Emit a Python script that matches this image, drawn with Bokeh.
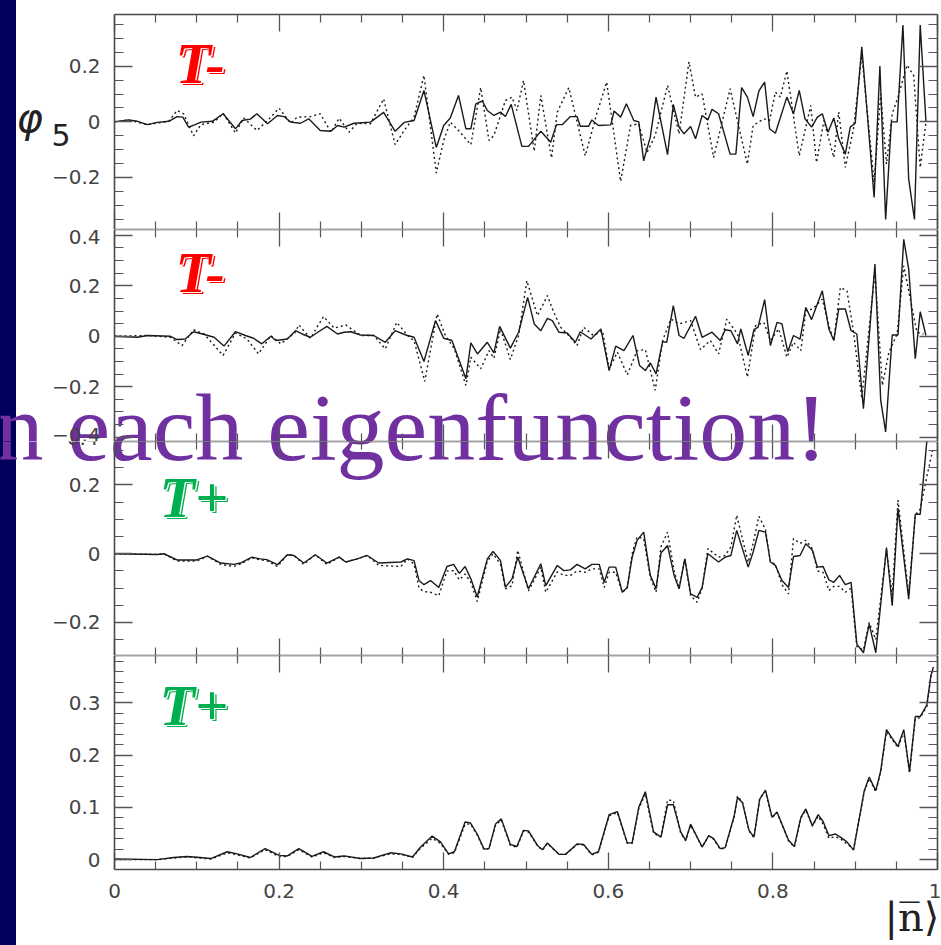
from bokeh.plotting import figure
from bokeh.layouts import column
from bokeh.models import FixedTicker, LinearAxis, Label, Range1d, CustomJSTickFormatter
from bokeh.embed import file_html
from bokeh.resources import INLINE

# ---------------- data ----------------
# Panel 1 (T-)
p1_solid_x = [0, 0.017, 0.028, 0.040, 0.052, 0.066, 0.076, 0.083, 0.090, 0.098, 0.105, 0.119, 0.132, 0.147, 0.155, 0.165, 0.173, 0.186, 0.198, 0.206, 0.214, 0.226, 0.236, 0.250, 0.263, 0.271, 0.279, 0.291, 0.311, 0.327, 0.341, 0.352, 0.364, 0.376, 0.391, 0.400, 0.408, 0.418, 0.427,
              0.433, 0.439, 0.447, 0.453, 0.461, 0.469, 0.475, 0.482, 0.495, 0.503, 0.518, 0.530, 0.537, 0.544, 0.554, 0.562, 0.566, 0.576, 0.580, 0.588, 0.603, 0.607, 0.615, 0.622, 0.631, 0.637, 0.643, 0.651, 0.658, 0.672, 0.679, 0.686, 0.692, 0.700, 0.706, 0.714, 0.721, 0.726, 0.734, 0.748, 0.755, 0.762, 0.769, 0.776, 0.783, 0.790, 0.796, 0.803, 0.817, 0.825, 0.832, 0.839, 0.847, 0.854, 0.860, 0.867, 0.874, 0.880, 0.888, 0.894, 0.900, 0.908, 0.923, 0.930, 0.937, 0.944, 0.951, 0.958, 0.965, 0.972, 0.979, 0.986]
p1_solid_y = [0, 0.007, 0.002, -0.01, -0.002, 0.002, 0.019, 0.017, -0.019, -0.01, -0.001, 0.002, 0.029, -0.025, 0.005, 0.01, 0.029, -0.007, 0.023, 0.019, -0.001, -0.005, 0.011, -0.031, -0.034, -0.013, -0.019, -0.005, -0.001, 0.034, -0.034, -0.002, 0.005, 0.113, -0.092, -0.013, 0.014, 0.095, -0.025,
              -0.025, 0.065, 0.075, 0.041, 0.023, 0.035, 0.019, 0.063, -0.088, -0.088, -0.034, -0.073, -0.01, -0.01, 0.019, 0.019, -0.016, -0.016, 0.007, -0.013, -0.011, 0.039, 0.017, 0.065, 0.005, 0, -0.14, -0.055, 0.089, -0.118, 0.063, -0.019, -0.043, -0.017, -0.061, 0.023, 0.007, 0.045, 0.029, -0.116, -0.116, 0.123, 0.089, 0.019, 0.111, 0.143, -0.025, -0.041, 0.089, 0.029, 0.113, 0.011, -0.019, 0.017, 0.029, -0.037, 0.014, -0.061, -0.116, -0.019, -0.005, 0.27, -0.272, 0.201, -0.351, 0, 0, 0.348, -0.206, -0.351, 0.348, 0]
p1_dotted_x = [0, 0.017, 0.040, 0.066, 0.076, 0.084, 0.096, 0.105, 0.121, 0.132, 0.147, 0.157, 0.173, 0.186, 0.2, 0.214, 0.222, 0.238, 0.25, 0.263, 0.273, 0.285, 0.295, 0.311, 0.327, 0.341, 0.352, 0.364, 0.376, 0.391, 0.4, 0.408, 0.418,
               0.433, 0.445, 0.455, 0.461, 0.475, 0.483, 0.489, 0.497, 0.510, 0.518, 0.531, 0.538, 0.552, 0.572, 0.586, 0.598, 0.615, 0.627, 0.637, 0.647, 0.657, 0.672, 0.686, 0.698, 0.706, 0.714, 0.728, 0.748, 0.769, 0.776, 0.789, 0.796, 0.803, 0.809, 0.817, 0.832, 0.846, 0.853, 0.862, 0.874, 0.88, 0.888, 0.898, 0.908, 0.923, 0.931, 0.938, 0.945, 0.952, 0.963, 0.971, 0.979, 0.986]
p1_dotted_y = [0, 0.007, -0.01, 0.002, 0.041, 0.029, -0.05, -0.01, -0.001, 0.031, -0.04, 0.014, -0.031, 0.005, 0.049, -0.005, 0.017, 0.019, 0.029, -0.037, 0.013, -0.037, -0.005, -0.007, 0.083, -0.082, -0.031, 0.017, 0.167, -0.184, -0.067, -0.001, -0.031,
               -0.082, 0.123, -0.067, -0.049, 0.077, 0.089, 0.041, 0.149, -0.106, 0.095, -0.13, 0.035, 0.123, -0.122, 0.029, 0.143, -0.214, -0.013, -0.007, -0.11, -0.049, 0.131, -0.043, 0.216, 0.089, 0.101, -0.128, 0.119, -0.152, -0.013, 0.011, 0.005, 0.107, 0.089, 0.183, -0.122, 0.059, -0.146, 0.005, -0.128, 0.035, -0.164, -0.025, 0.24, -0.218, 0.101, -0.152, 0.029, 0.089, 0.204, 0.167, -0.164, 0]

# Panel 2 (T-)
p2_solid_x = [0, 0.028, 0.04, 0.068, 0.076, 0.086, 0.096, 0.107, 0.121, 0.133, 0.147, 0.159, 0.169, 0.179, 0.19, 0.196, 0.21, 0.22, 0.228, 0.238, 0.248, 0.258, 0.271, 0.279, 0.287, 0.299, 0.315, 0.329, 0.341, 0.354, 0.364, 0.376, 0.39, 0.4, 0.41, 0.427,
              0.433, 0.441, 0.453, 0.461, 0.468, 0.481, 0.491, 0.502, 0.510, 0.518, 0.526, 0.532, 0.540, 0.550, 0.560, 0.566, 0.579, 0.591, 0.601, 0.609, 0.619, 0.630, 0.638, 0.645, 0.651, 0.658, 0.666, 0.671, 0.679, 0.686, 0.692, 0.706, 0.714, 0.726, 0.736, 0.742, 0.749, 0.757, 0.761, 0.770, 0.777, 0.782, 0.790, 0.797, 0.805, 0.811, 0.818, 0.825, 0.833, 0.840, 0.847, 0.854, 0.860, 0.868, 0.874, 0.880, 0.888, 0.895, 0.902, 0.910, 0.924, 0.931, 0.937, 0.945, 0.952, 0.959, 0.965, 0.973, 0.979, 0.986]
p2_solid_y = [0, -0.004, 0.003, 0, -0.013, -0.011, 0.018, 0.009, -0.004, -0.039, 0.018, 0.003, -0.008, -0.03, 0, -0.017, -0.011, 0.022, 0.009, -0.004, 0.018, 0.039, 0.009, 0.016, 0.018, 0.005, 0.003, -0.024, 0.022, 0.005, -0.004, -0.1, 0.062, -0.008, -0.017, -0.168,
              -0.026, -0.07, -0.024, -0.066, 0.039, -0.047, 0.016, 0.154, 0.049, 0.022, 0.071, 0.062, 0.016, 0.013, -0.024, 0.018, -0.011, 0.029, -0.136, -0.039, -0.057, 0.003, -0.116, -0.136, -0.105, -0.149, -0.021, -0.024, 0.121, 0.003, -0.008, 0.079, -0.004, 0.016, -0.017, 0.026, 0.022, -0.03, 0.029, -0.076, 0.026, 0.036, 0.145, -0.037, 0.055, 0.049, -0.061, 0.003, -0.011, 0.114, 0.066, 0.128, 0.18, 0.029, -0.017, 0.108, 0.108, 0.022, 0.009, -0.287, 0.286, -0.254, -0.379, 0.005, 0.005, 0.384, 0.266, -0.089, 0.097, 0.003]
p2_dotted_x = [0, 0.04, 0.068, 0.082, 0.096, 0.109, 0.132, 0.147, 0.161, 0.175, 0.19, 0.202, 0.219, 0.224, 0.238, 0.254, 0.267, 0.281, 0.299, 0.315, 0.329, 0.343, 0.358, 0.364, 0.377, 0.392, 0.402, 0.413, 0.427, 0.433,
               0.445, 0.455, 0.461, 0.469, 0.481, 0.491, 0.501, 0.514, 0.526, 0.533, 0.542, 0.554, 0.562, 0.570, 0.582, 0.593, 0.601, 0.611, 0.623, 0.635, 0.645, 0.657, 0.666, 0.676, 0.686, 0.700, 0.712, 0.724, 0.734, 0.744, 0.757, 0.769, 0.779, 0.789, 0.797, 0.807, 0.817, 0.825, 0.834, 0.840, 0.848, 0.860, 0.868, 0.874, 0.882, 0.890, 0.898, 0.908, 0.924, 0.933, 0.941, 0.951, 0.959, 0.967, 0.975, 0.983]
p2_dotted_y = [0, 0.003, -0.004, -0.037, 0.026, 0.009, -0.076, 0.013, -0.011, -0.07, 0.003, -0.03, 0.013, 0.045, -0.008, 0.078, 0.032, 0.045, 0.003, 0.003, -0.05, 0.055, -0.004, -0.017, -0.179, 0.088, 0.003, -0.05, -0.195, -0.083,
               -0.129, -0.057, -0.087, 0.029, -0.092, 0.003, 0.22, 0.082, 0.161, 0.101, 0.036, -0.004, -0.037, 0.036, 0.003, 0.022, -0.129, -0.063, -0.153, -0.057, -0.053, -0.214, -0.017, 0.068, 0.049, 0.062, -0.053, -0.017, -0.07, 0.068, 0.009, -0.162, 0.042, 0.055, -0.017, 0.029, -0.083, -0.024, -0.057, 0.101, 0.108, 0.147, 0.042, -0.017, 0.193, 0.18, 0.016, -0.247, 0.253, -0.195, -0.063, 0.009, 0.279, 0.147, 0.016, 0.009]

# Panel 3 (T+)
p3_x = [0, 0.052, 0.06, 0.076, 0.1, 0.113, 0.129, 0.145, 0.153, 0.167, 0.177, 0.185, 0.198, 0.21, 0.218, 0.23, 0.244, 0.258, 0.273, 0.281, 0.295, 0.307, 0.321, 0.348, 0.356, 0.364, 0.37, 0.376, 0.384, 0.394, 0.404, 0.412, 0.419, 0.426, 0.433,
        0.4407, 0.453, 0.46, 0.469, 0.475, 0.483, 0.49, 0.503, 0.518, 0.524, 0.538, 0.546, 0.554, 0.562, 0.572, 0.58, 0.589, 0.595, 0.601, 0.609, 0.617, 0.623, 0.629, 0.635, 0.643, 0.651, 0.658, 0.664, 0.672, 0.68, 0.686, 0.693, 0.7, 0.708, 0.714, 0.721, 0.734, 0.742, 0.749, 0.756, 0.77, 0.776, 0.783, 0.791, 0.797, 0.803, 0.811, 0.819, 0.825, 0.833, 0.84, 0.848, 0.854, 0.861, 0.868, 0.874, 0.881, 0.888, 0.895, 0.902, 0.91, 0.917, 0.925, 0.938, 0.945, 0.952, 0.965, 0.973, 0.979, 0.987, 0.994]
p3_solid = [0, -0.002, 0, -0.018, -0.018, -0.007, -0.027, -0.031, -0.027, -0.01, -0.015, -0.017, -0.032, -0.003, -0.005, -0.027, -0.003, -0.027, -0.01, -0.024, -0.015, -0.005, -0.027, -0.024, -0.015, -0.02, -0.078, -0.09, -0.078, -0.098, -0.037, -0.031, -0.057, -0.037, -0.073,
            -0.125, -0.015, 0.007, -0.02, -0.098, -0.073, -0.01, -0.102, -0.029, -0.093, -0.034, -0.049, -0.047, -0.031, -0.044, -0.031, -0.031, -0.083, -0.039, -0.039, -0.112, -0.098, -0.01, 0.039, 0.063, -0.063, -0.102, 0.002, 0.024, -0.063, -0.102, -0.015, -0.117, -0.127, -0.098, 0, -0.024, -0.01, -0.005, 0.068, -0.039, 0.005, 0.068, 0.063, -0.024, -0.034, -0.078, -0.098, -0.008, -0.005, 0.029, 0.01, -0.039, -0.037, -0.076, -0.083, -0.063, -0.09, -0.083, -0.263, -0.288, -0.205, -0.288, 0.018, -0.151, 0.132, -0.132, 0.115, 0.115, 0.327, 0.4]
p3_dotted = [0, -0.002, 0, -0.021, -0.021, -0.007, -0.031, -0.037, -0.03, -0.012, -0.018, -0.02, -0.037, -0.003, -0.005, -0.031, -0.003, -0.031, -0.01, -0.024, -0.015, -0.005, -0.034, -0.037, -0.015, -0.03, -0.1, -0.11, -0.112, -0.122, -0.05, -0.049, -0.076, -0.059, -0.083,
             -0.139, -0.022, 0, -0.031, -0.102, -0.093, 0.01, -0.108, -0.039, -0.112, -0.053, -0.063, -0.063, -0.05, -0.054, -0.044, -0.044, -0.098, -0.054, -0.054, -0.112, -0.1, 0, 0.049, 0.044, -0.068, -0.112, 0.02, 0.063, -0.05, -0.102, -0.015, -0.122, -0.141, -0.1, 0.015, -0.01, -0.005, 0.02, 0.112, -0.025, 0.03, 0.109, 0.07, -0.024, -0.03, -0.09, -0.117, 0.044, 0.03, 0.039, 0.015, -0.05, -0.054, -0.107, -0.095, -0.095, -0.112, -0.1, -0.27, -0.28, -0.2, -0.25, 0.01, -0.12, 0.156, -0.117, 0.112, 0.13, 0.224, 0.3]

# Panel 4 (T+)
p4_x = [0, 0.052, 0.072, 0.088, 0.104, 0.117, 0.137, 0.149, 0.165, 0.183, 0.2, 0.21, 0.224, 0.24, 0.254, 0.267, 0.279, 0.299, 0.315, 0.335, 0.348, 0.362, 0.372, 0.386, 0.396, 0.406, 0.413, 0.426,
        0.4326, 0.4407, 0.449, 0.455, 0.463, 0.47, 0.481, 0.489, 0.497, 0.503, 0.514, 0.52, 0.526, 0.54, 0.548, 0.562, 0.57, 0.58, 0.588, 0.601, 0.611, 0.623, 0.629, 0.637, 0.645, 0.655, 0.664, 0.672, 0.679, 0.688, 0.694, 0.7, 0.714, 0.722, 0.728, 0.736, 0.742, 0.753, 0.757, 0.763, 0.771, 0.777, 0.784, 0.791, 0.799, 0.805, 0.819, 0.826, 0.834, 0.84, 0.848, 0.855, 0.861, 0.868, 0.876, 0.882, 0.89, 0.898, 0.911, 0.917, 0.925, 0.931, 0.938, 0.945, 0.952, 0.959, 0.966, 0.973, 0.979, 0.987, 0.992, 0.995]
p4_solid = [0.001, 0, 0.004, 0.006, 0.004, 0.002, 0.015, 0.011, 0.004, 0.021, 0.008, 0.007, 0.021, 0.006, 0.015, 0.005, 0.007, 0.002, 0.003, 0.013, 0.011, 0.005, 0.024, 0.045, 0.034, 0.011, 0.015, 0.072,
            0.07, 0.049, 0.02, 0.021, 0.068, 0.078, 0.029, 0.025, 0.056, 0.055, 0.027, 0.019, 0.032, 0.01, 0.01, 0.03, 0.029, 0.01, 0.015, 0.086, 0.092, 0.032, 0.032, 0.1, 0.13, 0.053, 0.043, 0.105, 0.105, 0.053, 0.037, 0.068, 0.024, 0.046, 0.04, 0.021, 0.023, 0.084, 0.119, 0.109, 0.056, 0.043, 0.116, 0.133, 0.081, 0.091, 0.037, 0.025, 0.081, 0.097, 0.065, 0.086, 0.073, 0.046, 0.049, 0.043, 0.034, 0.018, 0.132, 0.158, 0.132, 0.17, 0.249, 0.232, 0.217, 0.249, 0.168, 0.274, 0.274, 0.296, 0.353, 0.369]
p4_dotted = [0, 0, 0.003, 0.005, 0.003, 0.001, 0.013, 0.009, 0.003, 0.019, 0.006, 0.006, 0.019, 0.005, 0.013, 0.004, 0.006, 0.002, 0.003, 0.011, 0.01, 0.004, 0.022, 0.041, 0.031, 0.01, 0.013, 0.068,
             0.068, 0.047, 0.019, 0.021, 0.066, 0.076, 0.027, 0.024, 0.055, 0.053, 0.026, 0.018, 0.031, 0.01, 0.01, 0.029, 0.028, 0.009, 0.014, 0.084, 0.09, 0.031, 0.031, 0.098, 0.126, 0.05, 0.044, 0.114, 0.113, 0.05, 0.036, 0.066, 0.024, 0.045, 0.039, 0.02, 0.022, 0.082, 0.122, 0.11, 0.055, 0.042, 0.118, 0.13, 0.08, 0.09, 0.036, 0.024, 0.08, 0.095, 0.064, 0.083, 0.068, 0.041, 0.044, 0.04, 0.03, 0.02, 0.13, 0.155, 0.13, 0.168, 0.245, 0.23, 0.214, 0.245, 0.166, 0.27, 0.272, 0.293, 0.35, 0.365]

# ticks
x_major = [0, 0.2, 0.4, 0.6, 0.8, 1.0]
x_minor = [0.05, 0.1, 0.15, 0.25, 0.3, 0.35, 0.45, 0.5, 0.55, 0.65, 0.7, 0.75, 0.85, 0.9, 0.95]
p1_major = [-0.2, 0, 0.2]
p1_minor = [-0.35, -0.3, -0.25, -0.15, -0.1, -0.05, 0.05, 0.1, 0.15, 0.25, 0.3, 0.35]
p2_major = [-0.4, -0.2, 0, 0.2, 0.4]
p2_minor = [-0.35, -0.3, -0.25, -0.15, -0.1, -0.05, 0.05, 0.1, 0.15, 0.25, 0.3, 0.35]
p3_major = [-0.2, 0, 0.2]
p3_minor = [-0.25, -0.15, -0.1, -0.05, 0.05, 0.1, 0.15, 0.25, 0.3]
p4_major = [0, 0.1, 0.2, 0.3]
p4_minor = [0.02, 0.04, 0.06, 0.08, 0.12, 0.14, 0.16, 0.18, 0.22, 0.24, 0.26, 0.28, 0.32, 0.34, 0.36, 0.38]

panel_labels = ["T-", "T-", "T+", "T+"]
panel_label_colors = ["#ff0000", "#ff0000", "#00b050", "#00b050"]
overlay_text = "n each eigenfunction!"
y_label_main = "\u03c6"
y_label_sub = "5"
x_label = "|n\u0305\u27e9"
p2_bottom_tick_text = "\u22120.4"

# ---------------- layout geometry ----------------
PAGE_W = 941
BOX_LEFT = 114      # pixel of x = 0
BOX_W = 823         # pixels from x = 0 to x = 1
FULL_X = (-BOX_LEFT / BOX_W, (PAGE_W - BOX_LEFT) / BOX_W)
TICK_COLOR = "#555555"
AXIS_COLOR = "#4a4a4a"
LABEL_COLOR = "#444444"
BASE_SHIFT = 0.35   # anchor offset (fraction of font size) for the alphabetic baseline

label_fmt_code = """
if (Math.abs(tick) < 1e-9) { return '0'; }
if (Math.abs(tick - Math.round(tick)) < 1e-9) { return String(Math.round(tick)); }
const s = Math.abs(tick).toFixed(1);
return tick < 0 ? '\u2212' + s : s;
"""


def px_x(px):
    return (px - BOX_LEFT) / BOX_W


def style_axis(ax, major, minor, major_len, minor_len, show):
    ax.ticker = FixedTicker(ticks=major, minor_ticks=minor)
    ax.axis_line_color = AXIS_COLOR
    ax.axis_line_width = 1.6
    ax.major_tick_in = major_len
    ax.major_tick_out = 0
    ax.minor_tick_in = minor_len
    ax.minor_tick_out = 0
    ax.major_tick_line_color = TICK_COLOR
    ax.minor_tick_line_color = TICK_COLOR
    ax.major_tick_line_width = 1.3
    ax.minor_tick_line_width = 1.2
    if show:
        ax.formatter = CustomJSTickFormatter(code=label_fmt_code)
        ax.major_label_text_font = "DejaVu Sans"
        ax.major_label_text_font_size = "20px"
        ax.major_label_text_color = LABEL_COLOR
        ax.major_label_standoff = 14
    else:
        ax.formatter = CustomJSTickFormatter(code="return '';")
        ax.major_label_text_font_size = "0px"
        ax.major_label_standoff = 0


def make_panel(canvas_top, canvas_h, box_top, box_h, yr, y_major, y_minor, x_labels):
    lo, hi = yr

    def py(pix):
        return hi - (pix - box_top) / box_h * (hi - lo)

    full_y = (py(canvas_top + canvas_h), py(canvas_top))
    p = figure(frame_width=PAGE_W, frame_height=canvas_h,
               x_range=Range1d(*FULL_X), y_range=Range1d(*full_y),
               x_axis_type=None, y_axis_type=None,
               output_backend="svg", toolbar_location=None, title=None,
               min_border=0, min_border_left=0, min_border_right=0,
               min_border_top=0, min_border_bottom=0,
               background_fill_color=None, border_fill_color=None,
               outline_line_color=None)
    p.xgrid.visible = False
    p.ygrid.visible = False
    below = LinearAxis(fixed_location=lo, bounds=(0, 1))
    above = LinearAxis(fixed_location=hi, bounds=(0, 1))
    left = LinearAxis(fixed_location=0, bounds=(lo, hi))
    right = LinearAxis(fixed_location=1, bounds=(lo, hi))
    style_axis(below, x_major, x_minor, 17, 8, x_labels)
    style_axis(above, x_major, x_minor, 17, 8, False)
    style_axis(left, y_major, y_minor, 18, 9, True)
    style_axis(right, y_major, y_minor, 18, 9, False)
    p.add_layout(below, "below")
    p.add_layout(above, "above")
    p.add_layout(left, "left")
    p.add_layout(right, "right")
    return p, py


def text_label(p, py, left_px, base_px, text, size, **kw):
    lab = Label(x=px_x(left_px), y=py(base_px - BASE_SHIFT * size), text=text,
                text_font_size="%dpx" % size, text_baseline="alphabetic", **kw)
    p.add_layout(lab)
    return lab


def add_tag(p, py, left_px, base_px, text, color):
    kw = dict(text_font="Liberation Serif", text_font_style="bold italic", text_align="left")
    text_label(p, py, left_px + 2.6, base_px + 2.2, text, 58, text_color=color, **kw)
    text_label(p, py, left_px + 1.3, base_px + 1.1, text, 58, text_color="white", **kw)
    text_label(p, py, left_px, base_px, text, 58, text_color=color, **kw)


def add_overlay(p, py):
    text_label(p, py, -5, 461, overlay_text, 96, text_font="Liberation Serif",
               text_color="#7030a0", text_align="left", level="underlay")


def draw(p, xs, ys, dashed):
    if dashed:
        p.line(xs, ys, line_color="#1a1a1a", line_width=1.4, line_dash="2 3")
    else:
        p.line(xs, ys, line_color="#1a1a1a", line_width=1.4)


# panel 1: canvas 0..229, box 14..229
p1, py1 = make_panel(0, 229, 14, 215, (-0.387, 0.386), p1_major, p1_minor, False)
draw(p1, p1_solid_x, p1_solid_y, False)
draw(p1, p1_dotted_x, p1_dotted_y, True)
add_tag(p1, py1, 175, 83, panel_labels[0], panel_label_colors[0])
text_label(p1, py1, 16, 131, y_label_main, 40, text_font="DejaVu Sans",
           text_font_style="italic", text_color="#222222", text_align="left")
text_label(p1, py1, 51, 145, y_label_sub, 30, text_font="DejaVu Sans",
           text_color="#222222", text_align="left")

# panel 2: canvas 229..441
p2, py2 = make_panel(229, 212, 229, 212, (-0.417, 0.423), p2_major, p2_minor, False)
draw(p2, p2_solid_x, p2_solid_y, False)
draw(p2, p2_dotted_x, p2_dotted_y, True)
add_tag(p2, py2, 175, 292, panel_labels[1], panel_label_colors[1])
add_overlay(p2, py2)

# panel 3: canvas 441..655
p3, py3 = make_panel(441, 214, 441, 214, (-0.296, 0.3265), p3_major, p3_minor, False)
draw(p3, p3_x, p3_solid, False)
draw(p3, p3_x, p3_dotted, True)
add_tag(p3, py3, 159, 517, panel_labels[2], panel_label_colors[2])
add_overlay(p3, py3)
# lower part of panel 2's bottom tick label, which crosses the panel boundary
text_label(p3, py3, 98, 444, p2_bottom_tick_text, 20, text_font="DejaVu Sans",
           text_color=LABEL_COLOR, text_align="right")

# panel 4: canvas 655..945, box 655..869
p4, py4 = make_panel(655, 290, 655, 214, (-0.019, 0.391), p4_major, p4_minor, True)
draw(p4, p4_x, p4_solid, False)
draw(p4, p4_x, p4_dotted, True)
add_tag(p4, py4, 159, 725, panel_labels[3], panel_label_colors[3])
text_label(p4, py4, 884, 930, x_label, 40, text_font="DejaVu Serif",
           text_color="#222222", text_align="left")

layout = column(p1, p2, p3, p4, spacing=0,
                styles={"background": "linear-gradient(to right, #00005c 0px, #00005c 16px, #ffffff 16px, #ffffff 100%)"})

open("out.html", "w").write(file_html(layout, INLINE, title="phi5"))
